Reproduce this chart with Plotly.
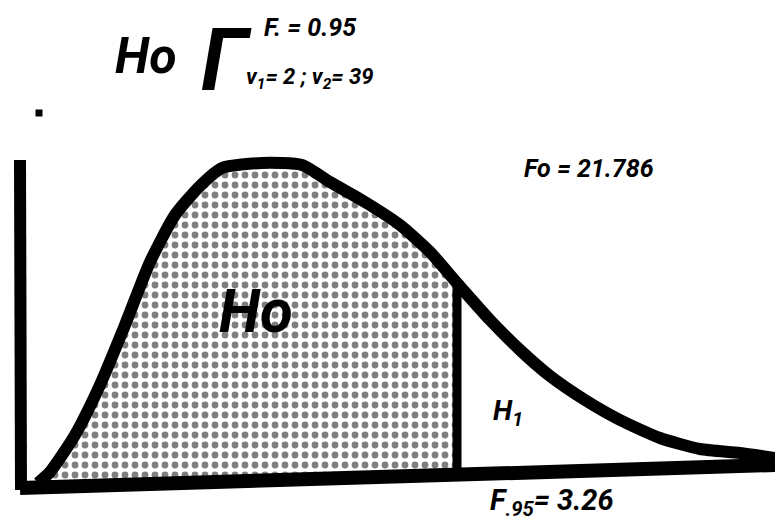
import plotly.graph_objects as go

# Schematic F-distribution curve (drawing units: x right, y down)
curve_x = [38, 50, 75, 100, 125, 150, 175, 200, 222, 262, 302, 330, 365, 400, 430, 457,
           490, 520, 550, 585, 620, 660, 700, 740, 775]
curve_y = [483, 472, 435, 385, 325, 262, 215, 186, 168, 163, 165, 182, 202, 225, 252, 283,
           320, 350, 376, 400, 420, 438, 449, 453, 458]
cut_index = 15          # critical value F.95 sits at curve_x[15]

# Axes of the sketch
base_x = [20, 775]
base_y = [488, 465]
vert_x = [20, 21]
vert_y = [160, 490]

FONT = "Roboto, Liberation Sans, sans-serif"


def base_at(x):
    return base_y[0] + (base_y[1] - base_y[0]) * (x - base_x[0]) / (base_x[1] - base_x[0])


fig = go.Figure()

# acceptance region (Ho): between the baseline and the curve, up to the critical value
acc_edge_x = [curve_x[0], curve_x[cut_index]]
fig.add_trace(go.Scatter(
    x=acc_edge_x, y=[base_at(v) for v in acc_edge_x], mode="lines",
    line=dict(width=0, color="black"), hoverinfo="skip"))
fig.add_trace(go.Scatter(
    x=curve_x[:cut_index + 1], y=curve_y[:cut_index + 1], mode="lines", fill="tonexty",
    line=dict(width=0, color="black", shape="spline", smoothing=0.6),
    fillcolor="white",
    fillpattern=dict(shape=".", size=10, solidity=0.36, fgcolor="black", bgcolor="white"),
    hoverinfo="skip"))

# critical value line
fig.add_trace(go.Scatter(
    x=[curve_x[cut_index], curve_x[cut_index]],
    y=[curve_y[cut_index], base_at(curve_x[cut_index])],
    mode="lines", line=dict(color="black", width=9), hoverinfo="skip"))

# axes
fig.add_trace(go.Scatter(x=vert_x, y=vert_y, mode="lines",
                         line=dict(color="black", width=12), hoverinfo="skip"))
fig.add_trace(go.Scatter(x=base_x, y=base_y, mode="lines",
                         line=dict(color="black", width=14), hoverinfo="skip"))

# density curve
fig.add_trace(go.Scatter(x=curve_x, y=curve_y, mode="lines",
                         line=dict(color="black", width=12, shape="spline", smoothing=0.6),
                         hoverinfo="skip"))

# stray dot
fig.add_trace(go.Scatter(x=[39], y=[113], mode="markers",
                         marker=dict(symbol="square", size=7, color="black"), hoverinfo="skip"))


def label(text, x, y, size, xanchor="center"):
    fig.add_annotation(x=x, y=y, text=text, showarrow=False, xanchor=xanchor, yanchor="middle",
                       font=dict(family=FONT, size=size, color="black", weight="bold", style="italic"))


label("Ho", 146, 56, 50)
label("Γ", 226, 60, 86)
label("F. = 0.95", 262, 27, 25, xanchor="left")
label("v<sub>1</sub>= 2 ; v<sub>2</sub>= 39", 244, 78, 22, xanchor="left")
label("Fo = 21.786", 522, 168, 25, xanchor="left")
label("Ho", 256, 311, 60)
label("H<sub>1</sub>", 508, 412, 28)
label("F<sub>.95</sub>= 3.26", 488, 502, 29, xanchor="left")

fig.update_layout(
    width=775, height=527,
    margin=dict(l=0, r=0, t=0, b=0),
    paper_bgcolor="white", plot_bgcolor="white",
    showlegend=False,
    xaxis=dict(range=[0, 775], visible=False, fixedrange=True),
    yaxis=dict(range=[527, 0], visible=False, fixedrange=True),
)

fig.write_html("out.html")
